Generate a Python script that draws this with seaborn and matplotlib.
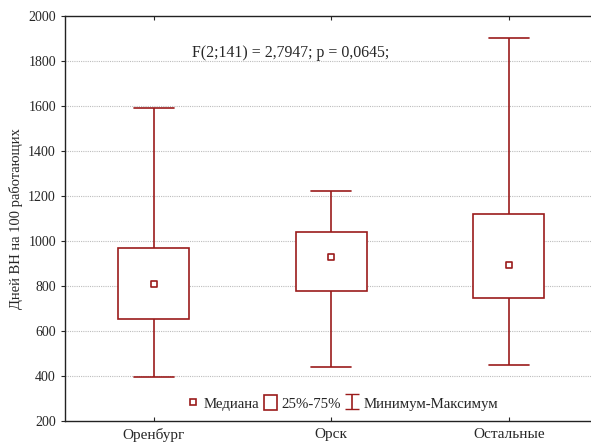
import numpy as np
import pandas as pd
import seaborn as sns
import matplotlib
matplotlib.use("Agg")
import matplotlib.pyplot as plt
from matplotlib.lines import Line2D
from matplotlib.patches import Patch

categories = ["Оренбург", "Орск", "Остальные"]
minimum = [395, 440, 450]
q1 = [655, 778, 748]
median = [808, 930, 895]
q3 = [968, 1040, 1120]
maximum = [1590, 1220, 1900]
yticks = [200, 400, 600, 800, 1000, 1200, 1400, 1600, 1800, 2000]

rows = []
for c, a, b, m, d, e in zip(categories, minimum, q1, median, q3, maximum):
    for v in (a, b, m, d, e):
        rows.append({"group": c, "value": v})
df = pd.DataFrame(rows)
med_df = pd.DataFrame({"group": categories, "value": median})

sns.set_style("white")
plt.rcParams["font.family"] = ["Liberation Serif", "DejaVu Serif"]
red = "#9b1b1b"

fig = plt.figure(figsize=(5.91, 4.44), dpi=100)
ax = fig.add_axes([65/591, 23/444, 532.5/591, 405/444])

n_before = len(ax.lines)
sns.boxplot(data=df, x="group", y="value", order=categories, whis=(0, 100),
            width=0.4, color="white", linewidth=1.2, ax=ax,
            boxprops=dict(facecolor="white", edgecolor=red),
            whiskerprops=dict(color=red), capprops=dict(color=red),
            medianprops=dict(visible=False), showfliers=False, zorder=2)
# widen caps (only boxplot lines)
for line in ax.lines[n_before:]:
    xd = np.asarray(line.get_xdata(), dtype=float)
    yd = np.asarray(line.get_ydata(), dtype=float)
    if len(xd) == 2 and xd[0] != xd[1] and yd[0] == yd[1] and line.get_visible():
        c = xd.mean()
        line.set_xdata([c - 0.113, c + 0.113])

for y in yticks[1:-1]:
    ax.axhline(y, color="#bdbdbd", lw=0.8, ls=(0, (1, 1)), zorder=0)

sns.scatterplot(data=med_df, x="group", y="value", marker="s", s=18,
                facecolor="white", edgecolor=red, linewidth=1.2, ax=ax, zorder=3)

ax.set_xlim(-0.5, 2.5)
ax.set_ylim(200, 2000)
ax.set_yticks(yticks)
ax.set_xlabel("")
ax.set_ylabel("Дней ВН на 100 работающих", fontsize=10.5)
ax.tick_params(axis="y", direction="out", length=3, labelsize=10, left=True)
ax.tick_params(axis="x", direction="in", length=3, labelsize=11, bottom=True, top=True, pad=5)
for s in ["left", "bottom", "top"]:
    ax.spines[s].set_color("#222222")
    ax.spines[s].set_linewidth(1.0)
ax.spines["right"].set_visible(False)

ax.text(0.77, 1836, "F(2;141) = 2,7947; p = 0,0645;", ha="center", va="center", fontsize=11.4)

eb = ax.errorbar([-5], [0], yerr=[1], fmt="none", ecolor=red, capsize=5, elinewidth=1.2)
handles = [
    Line2D([], [], marker="s", ls="none", markersize=4, markerfacecolor="white",
           markeredgecolor=red, markeredgewidth=1.2),
    Patch(facecolor="white", edgecolor=red, linewidth=1.2),
    eb,
]
labels = ["Медиана", "25%-75%", "Минимум-Максимум"]
ax.legend(handles, labels, loc="lower center", bbox_to_anchor=(0.52, 0.0), ncol=3,
          frameon=False, fontsize=10.7, handlelength=0.9, handleheight=1.1, handletextpad=0.3,
          columnspacing=0.3, borderaxespad=0.3)

fig.savefig("out.png", dpi=100)
